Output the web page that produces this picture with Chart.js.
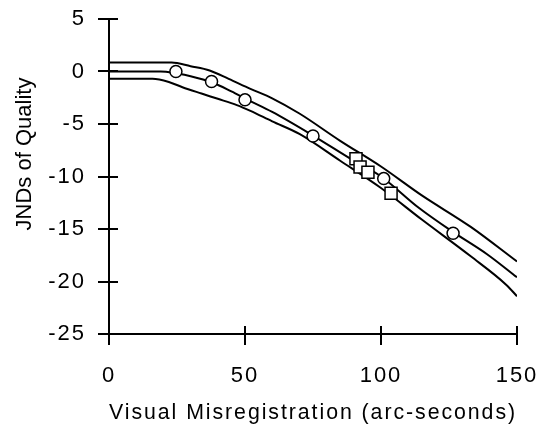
<!DOCTYPE html>
<html lang="en">
<head>
    <meta charset="UTF-8">
    <title>JNDs of Quality</title>
    <script src="https://cdn.jsdelivr.net/npm/chart.js"></script>
    <style>
        body { margin: 0; background: #fff; }
        .chart-box { width: 540px; height: 435px; }
    </style>
</head>
<body>
    <div class="chart-box">
        <canvas id="qualityChart"></canvas>
    </div>

    <script>
        // Curves (x = arc-seconds, y = JNDs)
        const upperX = [0, 23, 30, 37, 44, 52, 60, 70, 85, 100, 115, 133, 150];
        const upperY = [0.85, 0.85, 0.5, 0.1, -0.7, -1.65, -2.55, -4.0, -6.6, -9.05, -11.8, -14.8, -18.1];

        const middleX = [0, 19, 25, 30, 38, 45, 51, 60, 75, 90, 100, 114, 126, 139, 150];
        const middleY = [0, 0, -0.2, -0.45, -1.05, -1.9, -2.7, -3.85, -6.1, -8.5, -10.0, -13.0, -15.2, -17.4, -19.6];

        const lowerX = [0, 16, 22, 27, 34, 40, 47, 52, 60, 70, 85, 100, 115, 133, 146, 150];
        const lowerY = [-0.7, -0.7, -1.0, -1.5, -2.1, -2.6, -3.2, -3.75, -4.75, -5.95, -8.5, -11.1, -14.1, -17.6, -20.3, -21.4];

        // Measured points
        const circleX = [24.6, 37.7, 50, 75, 101, 126.5];
        const circleY = [0.0, -0.95, -2.7, -6.15, -10.2, -15.4];
        const squareX = [90.8, 92.3, 95.2, 103.7];
        const squareY = [-8.3, -9.1, -9.6, -11.6];

        // Tick labels
        const xTicks = [0, 50, 100, 150];
        const yTicks = [5, 0, -5, -10, -15, -20, -25];

        const toPoints = (xs, ys) => xs.map((x, i) => ({ x: x, y: ys[i] }));

        const fontFamily = '"Liberation Sans", Arial, sans-serif';

        function curve(xs, ys) {
            return {
                type: 'line',
                data: toPoints(xs, ys),
                borderColor: '#000',
                borderWidth: 2,
                pointRadius: 0,
                cubicInterpolationMode: 'monotone',
                order: 2
            };
        }

        // no extra room for the end labels, the layout padding decides
        function noLabelPadding(s) {
            s.paddingTop = 0;
            s.paddingBottom = 0;
            s.paddingLeft = 0;
            s.paddingRight = 0;
        }

        // Ticks that cross the axis lines, plus the y title
        const axisDecor = {
            id: 'axisDecor',
            beforeDraw(chart) {
                chart.ctx.letterSpacing = '2px';
            },
            afterDraw(chart) {
                const ctx = chart.ctx;
                const { left, bottom } = chart.chartArea;
                const xs = chart.scales.x, ys = chart.scales.y;
                ctx.save();
                ctx.strokeStyle = '#000';
                ctx.lineWidth = 2;
                ctx.beginPath();
                yTicks.forEach(v => {
                    const py = Math.round(ys.getPixelForValue(v));
                    ctx.moveTo(left - 11, py);
                    ctx.lineTo(left + 9, py);
                });
                xTicks.forEach(v => {
                    const px = Math.round(xs.getPixelForValue(v));
                    ctx.moveTo(px, bottom - 8);
                    ctx.lineTo(px, bottom + 11);
                });
                ctx.stroke();

                ctx.letterSpacing = '0px';
                ctx.fillStyle = '#000';
                ctx.font = '22px ' + fontFamily;
                ctx.textAlign = 'center';
                ctx.textBaseline = 'middle';
                ctx.translate(25, 154);
                ctx.rotate(-Math.PI / 2);
                ctx.fillText('JNDs of Quality', 0, 0);
                ctx.restore();
            }
        };

        const ctx = document.getElementById('qualityChart').getContext('2d');
        const qualityChart = new Chart(ctx, {
            type: 'scatter',
            data: {
                datasets: [
                    {
                        data: toPoints(circleX, circleY),
                        pointStyle: 'circle',
                        pointRadius: 6,
                        backgroundColor: '#fff',
                        borderColor: '#000',
                        borderWidth: 1.5,
                        order: 0
                    },
                    {
                        data: toPoints(squareX, squareY),
                        pointStyle: 'rect',
                        pointRadius: 8.5,
                        backgroundColor: '#fff',
                        borderColor: '#000',
                        borderWidth: 1.5,
                        order: 1
                    },
                    curve(upperX, upperY),
                    curve(middleX, middleY),
                    curve(lowerX, lowerY)
                ]
            },
            options: {
                responsive: true,
                maintainAspectRatio: false,
                animation: false,
                layout: { padding: { top: 19, right: 23, left: 0, bottom: 0 } },
                plugins: {
                    legend: { display: false },
                    tooltip: { enabled: false }
                },
                scales: {
                    x: {
                        type: 'linear',
                        min: 0,
                        max: 150,
                        afterBuildTicks: s => { s.ticks = xTicks.map(v => ({ value: v })); },
                        afterFit: s => { s.height = 101; noLabelPadding(s); },
                        grid: { display: false, drawTicks: false },
                        border: { display: true, color: '#000', width: 2 },
                        ticks: {
                            color: '#000',
                            padding: 29,
                            maxRotation: 0,
                            font: { family: fontFamily, size: 22 }
                        },
                        title: {
                            display: true,
                            text: 'Visual Misregistration (arc-seconds)',
                            color: '#000',
                            padding: { top: 0, bottom: 9 },
                            font: { family: fontFamily, size: 22 }
                        }
                    },
                    y: {
                        type: 'linear',
                        min: -25,
                        max: 5,
                        afterBuildTicks: s => { s.ticks = yTicks.map(v => ({ value: v })); },
                        afterFit: s => { s.width = 109; noLabelPadding(s); },
                        grid: { display: false, drawTicks: false },
                        border: { display: true, color: '#000', width: 2 },
                        ticks: {
                            color: '#000',
                            padding: 23,
                            font: { family: fontFamily, size: 22 }
                        }
                    }
                }
            },
            plugins: [axisDecor]
        });
    </script>
</body>
</html>
